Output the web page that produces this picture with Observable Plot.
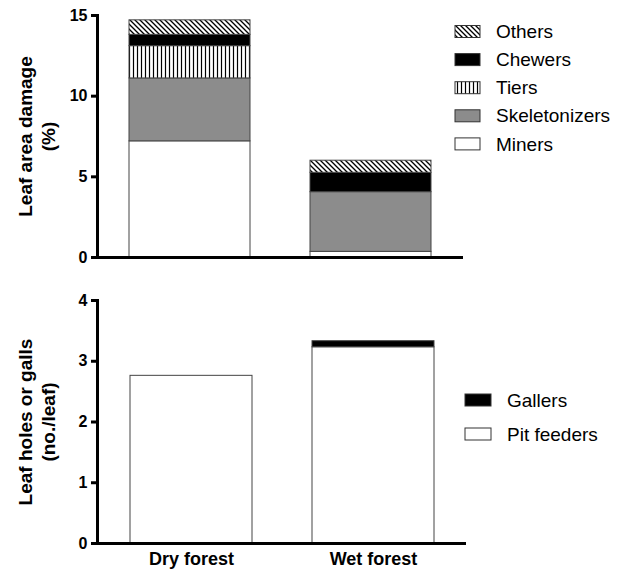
<!DOCTYPE html>
<html><head><meta charset="utf-8">
<script src="https://cdn.jsdelivr.net/npm/d3@7"></script>
<script src="https://cdn.jsdelivr.net/npm/@observablehq/plot@0.6"></script>
<style>
body{margin:0;background:#fff;font-family:"Liberation Sans",Arial,sans-serif;}
#chart{position:relative;width:618px;height:573px;}
svg{display:block}
g[aria-label="y-axis tick label"] text{font-size:16px;font-weight:bold;}
</style></head><body><div id="chart"></div>
<script>
// ---- data ----
const forests = ["Dry forest", "Wet forest"];
const damageTypes = ["Miners", "Skeletonizers", "Tiers", "Chewers", "Others"];
const dryDamage = [7.2, 3.9, 2.0, 0.7, 0.9];
const wetDamage = [0.35, 3.7, 0, 1.2, 0.75];
const damageTicks = [0, 5, 10, 15];
const holeTypes = ["Pit feeders", "Gallers"];
const dryHoles = [2.76, 0];
const wetHoles = [3.23, 0.1];
const holeTicks = [0, 1, 2, 3, 4];

const damageFills = ["white", "#8c8c8c", "url(#hatchTiers)", "black", "url(#hatchOthers)"];
const holeFills = ["white", "black"];

const damageRows = forests.flatMap((f, j) => damageTypes.map((t, i) => ({forest: f, type: t, value: (j ? wetDamage : dryDamage)[i]})));
const holeRows = forests.flatMap((f, j) => holeTypes.map((t, i) => ({forest: f, type: t, value: (j ? wetHoles : dryHoles)[i]})));

const FONT = "Liberation Sans, Arial, Helvetica, sans-serif";

const defs = () => {
  const g = d3.create("svg:defs");
  const p1 = g.append("pattern").attr("id", "hatchOthers").attr("patternUnits", "userSpaceOnUse").attr("width", 5).attr("height", 5);
  p1.append("rect").attr("width", 5).attr("height", 5).attr("fill", "white");
  p1.append("path").attr("d", "M-1,-1L6,6M-1,4L1,6M4,-1L6,1").attr("stroke", "black").attr("stroke-width", 1.3);
  const p2 = g.append("pattern").attr("id", "hatchTiers").attr("patternUnits", "userSpaceOnUse").attr("width", 4).attr("height", 4);
  p2.append("rect").attr("width", 4).attr("height", 4).attr("fill", "white");
  p2.append("path").attr("d", "M1.5,0V4").attr("stroke", "black").attr("stroke-width", 1.2);
  return g.node();
};

function addLegend(svg, names, fills, x0, y0, step, sw, sh, tx) {
  const g = d3.select(svg).append("g").attr("font-family", FONT).attr("text-anchor", "start");
  names.forEach((n, i) => {
    const cy = y0 + i * step;
    g.append("rect").attr("x", x0).attr("y", cy - sh / 2).attr("width", sw).attr("height", sh)
      .attr("fill", fills[i]).attr("stroke", "#333").attr("stroke-width", 1);
    g.append("text").attr("x", tx).attr("y", cy).attr("dy", "0.35em").attr("font-size", 19)
      .attr("text-anchor", "start").attr("fill", "black").text(n);
  });
}

const common = {
  width: 618,
  marginLeft: 97,
  style: {fontFamily: FONT, background: "white", color: "black"}
};

const topPlot = Plot.plot({
  ...common,
  height: 280,
  marginTop: 15,
  marginBottom: 23,
  marginRight: 155,
  x: {domain: forests, paddingInner: 0.332, paddingOuter: 0.177, axis: null},
  y: {domain: [0, 15]},
  color: {domain: damageTypes, range: damageFills, type: "ordinal"},
  marks: [
    defs,
    Plot.barY(damageRows, {filter: d => d.value > 0, x: "forest", y: "value", fill: "type", stroke: "#444", strokeWidth: 1, inset: 0}),
    Plot.axisY({ticks: damageTicks, tickFormat: d => String(d), tickSize: 6, strokeWidth: 3, tickPadding: 4, fontSize: 16, fontWeight: "bold", label: null}),
    Plot.frame({anchor: "left", strokeWidth: 3}),
    Plot.ruleY([0], {strokeWidth: 3}),
    Plot.text(["Leaf area damage\n(%)"], {frameAnchor: "left", textAnchor: "middle", rotate: -90, dx: -61, fontSize: 19, fontWeight: "bold", lineHeight: 1.2, lineAnchor: "middle"})
  ]
});

const bottomPlot = Plot.plot({
  ...common,
  height: 293,
  marginTop: 20,
  marginBottom: 30,
  marginRight: 152,
  x: {domain: forests, paddingInner: 0.332, paddingOuter: 0.176},
  y: {domain: [0, 4]},
  color: {domain: holeTypes, range: holeFills, type: "ordinal"},
  marks: [
    Plot.barY(holeRows, {filter: d => d.value > 0, x: "forest", y: "value", fill: "type", stroke: "#444", strokeWidth: 1, inset: 0}),
    Plot.axisY({ticks: holeTicks, tickFormat: d => String(d), tickSize: 6, strokeWidth: 3, tickPadding: 4, fontSize: 16, fontWeight: "bold", label: null}),
    Plot.axisX({tickSize: 0, tickPadding: 9, fontSize: 18, fontWeight: "bold", label: null}),
    Plot.frame({anchor: "left", strokeWidth: 3}),
    Plot.ruleY([0], {strokeWidth: 3}),
    Plot.text(["Leaf holes or galls\n(no./leaf)"], {frameAnchor: "left", textAnchor: "middle", rotate: -90, dx: -61, fontSize: 19, fontWeight: "bold", lineHeight: 1.2, lineAnchor: "middle"})
  ]
});

addLegend(topPlot, [...damageTypes].reverse(), [...damageFills].reverse(), 455, 31.5, 28.1, 25, 12, 496);
addLegend(bottomPlot, [...holeTypes].reverse(), [...holeFills].reverse(), 465, 120, 34, 26, 12, 507);

const chart = document.getElementById("chart");
chart.append(topPlot, bottomPlot);
</script>
</body></html>
